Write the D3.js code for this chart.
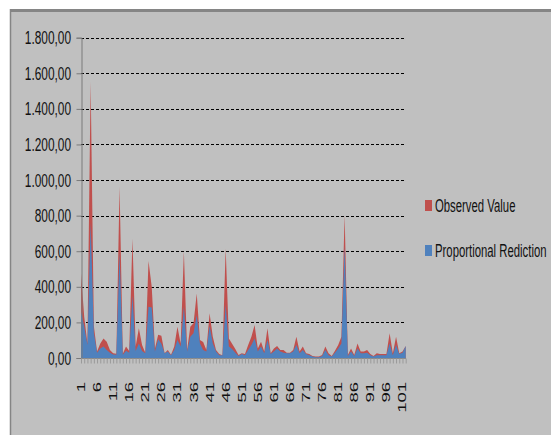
<!DOCTYPE html>
<html>
<head>
<meta charset="utf-8">
<script src="https://cdn.jsdelivr.net/npm/d3@7"></script>
<style>
  html, body { margin: 0; padding: 0; background: #fff; }
  svg { display: block; }
  text { font-family: "Liberation Sans", Arial, sans-serif; fill: #111; }
</style>
</head>
<body>
<svg id="chart" width="551" height="435"></svg>
<script>
// ---- data ----
const categories = d3.range(1, 103); // 1..102
const observed = [476, 232, 82, 1553, 180, 36, 82, 110, 92, 45,
  26, 24, 963, 24, 64, 40, 672, 64, 167, 73,
  30, 545, 400, 54, 130, 125, 26, 45, 18, 64,
  176, 82, 598, 45, 176, 195, 363, 101, 90, 45,
  251, 120, 45, 22, 16, 616, 110, 80, 50, 17,
  26, 22, 73, 120, 185, 54, 92, 36, 167, 26,
  54, 67, 45, 45, 30, 30, 45, 120, 36, 64,
  26, 22, 11, 8, 8, 17, 64, 26, 11, 41,
  73, 120, 803, 17, 54, 17, 82, 36, 36, 45,
  22, 11, 26, 22, 22, 22, 139, 26, 120, 26,
  36, 67];
const proportional = [260, 176, 73, 760, 140, 30, 54, 64, 45, 30,
  20, 18, 590, 18, 41, 30, 350, 40, 82, 40,
  26, 288, 284, 36, 105, 80, 26, 36, 16, 45,
  101, 64, 288, 36, 120, 139, 240, 82, 45, 36,
  180, 82, 36, 16, 16, 298, 64, 50, 30, 11,
  22, 16, 45, 73, 110, 36, 64, 26, 101, 22,
  36, 54, 36, 30, 26, 26, 36, 73, 26, 45,
  22, 16, 8, 4, 4, 11, 45, 16, 8, 30,
  54, 82, 625, 11, 36, 11, 54, 26, 26, 30,
  16, 8, 16, 16, 16, 16, 82, 16, 73, 22,
  30, 67];
const yTickValues = [0, 200, 400, 600, 800, 1000, 1200, 1400, 1600, 1800];
const xLabelCategories = [1, 6, 11, 16, 21, 26, 31, 36, 41, 46, 51, 56, 61, 66, 71, 76, 81, 86, 91, 96, 101];
const seriesNames = ["Observed Value", "Proportional Rediction"];
const seriesColors = ["#C0504D", "#4F81BD"];

// ---- drawing ----
const svg = d3.select("#chart");
const locale = d3.formatLocale({decimal: ",", thousands: ".", grouping: [3], currency: ["", ""]});
const fmt = locale.format(",.2f");

// chart background & frame
svg.append("rect").attr("x", 10).attr("y", 10).attr("width", 541).attr("height", 425).attr("fill", "#C0C0C0");
svg.append("line").attr("x1", 10).attr("x2", 551).attr("y1", 10.5).attr("y2", 10.5)
  .attr("stroke", "#858585").attr("stroke-width", 3);
svg.append("line").attr("x1", 10.5).attr("x2", 10.5).attr("y1", 9).attr("y2", 435)
  .attr("stroke", "#858585").attr("stroke-width", 1.5);

const x = d3.scalePoint().domain(categories).range([81, 405.7]);
const y = d3.scaleLinear().domain([0, 1800]).range([358, 37.7]);

// gridlines
svg.append("g").selectAll("line").data(yTickValues.filter(d => d > 0)).join("line")
  .attr("x1", 81).attr("x2", 406)
  .attr("y1", d => Math.round(y(d)) + 0.5).attr("y2", d => Math.round(y(d)) + 0.5)
  .attr("stroke", "#000").attr("stroke-width", 1).attr("stroke-dasharray", "3,2");

// areas
const defs = svg.append("defs");
defs.append("filter").attr("id", "soft").append("feGaussianBlur").attr("stdDeviation", 0.5);

const area = vals => d3.area()
  .x((d, i) => x(categories[i]))
  .y0(y(0))
  .y1(d => y(d))(vals);

const gA = svg.append("g").attr("filter", "url(#soft)");
gA.append("path").attr("d", area(observed)).attr("fill", seriesColors[0]);
gA.append("path").attr("d", area(proportional)).attr("fill", seriesColors[1]);

// y axis
const yAxis = d3.axisLeft(y).tickValues(yTickValues).tickSize(5).tickFormat("");
const gy = svg.append("g").attr("transform", "translate(81.5,0)").call(yAxis);
gy.select(".domain").attr("stroke", "#7a7a7a");
gy.selectAll(".tick line").attr("stroke", "#7a7a7a");

svg.append("g").selectAll("text").data(yTickValues).join("text")
  .attr("transform", d => `translate(71,${y(d)}) scale(0.66,1.05)`)
  .attr("text-anchor", "end")
  .attr("dominant-baseline", "central")
  .attr("font-size", 18)
  .text(d => fmt(d));

// x axis
const xAxis = d3.axisBottom(x).tickSize(5).tickFormat("");
const gx = svg.append("g").attr("transform", "translate(0,358.5)").call(xAxis);
gx.select(".domain").attr("stroke", "#8a8a8a").attr("d", "M81,0H406");
gx.selectAll(".tick line").attr("stroke", "#9a9a9a");

svg.append("g").selectAll("text").data(xLabelCategories).join("text")
  .attr("transform", d => `translate(${x(d)},382) rotate(-90) scale(1,0.6)`)
  .attr("text-anchor", "end")
  .attr("dominant-baseline", "central")
  .attr("font-size", 18.5)
  .text(d => d);

// legend
const legendY = [205.5, 250.5];
const lg = svg.append("g");
seriesNames.forEach((name, i) => {
  lg.append("rect").attr("x", 425).attr("y", legendY[i] - 5.5).attr("width", 7).attr("height", 11)
    .attr("fill", seriesColors[i]);
  lg.append("text")
    .attr("transform", `translate(435,${legendY[i]}) scale(0.63,1.05)`)
    .attr("dominant-baseline", "central")
    .attr("font-size", 18)
    .text(name);
});
</script>
</body>
</html>
